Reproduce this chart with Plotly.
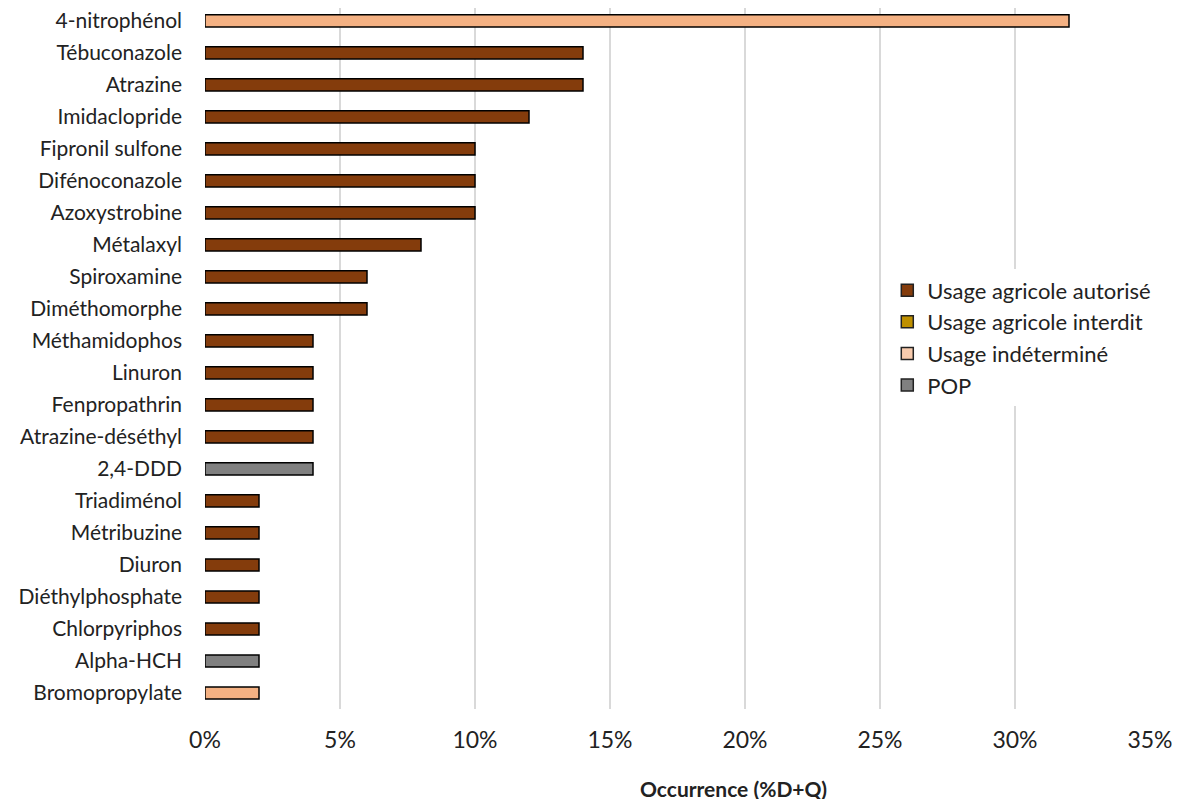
import plotly.graph_objects as go

substances = [
    "4-nitrophénol", "Tébuconazole", "Atrazine", "Imidaclopride", "Fipronil sulfone",
    "Difénoconazole", "Azoxystrobine", "Métalaxyl", "Spiroxamine", "Diméthomorphe",
    "Méthamidophos", "Linuron", "Fenpropathrin", "Atrazine-déséthyl", "2,4-DDD",
    "Triadiménol", "Métribuzine", "Diuron", "Diéthylphosphate", "Chlorpyriphos",
    "Alpha-HCH", "Bromopropylate",
]
occurrence = [32, 14, 14, 12, 10, 10, 10, 8, 6, 6, 4, 4, 4, 4, 4, 2, 2, 2, 2, 2, 2, 2]
usage = [
    "indet", "auto", "auto", "auto", "auto", "auto", "auto", "auto", "auto", "auto",
    "auto", "auto", "auto", "auto", "pop", "auto", "auto", "auto", "auto", "auto",
    "pop", "indet",
]

legend_names = ["Usage agricole autorisé", "Usage agricole interdit", "Usage indéterminé", "POP"]
legend_colors = ["#843C0C", "#BF9000", "#F8CBAD", "#808080"]
bar_colors = {"auto": "#843C0C", "indet": "#F4B183", "pop": "#808080"}

fig = go.Figure()
fig.add_trace(go.Bar(
    x=occurrence,
    y=substances,
    orientation="h",
    width=0.38,
    marker=dict(color=[bar_colors[u] for u in usage], line=dict(color="black", width=1.5)),
    showlegend=False,
))
for name, color in zip(legend_names, legend_colors):
    fig.add_trace(go.Bar(
        x=[None], y=[None], orientation="h", name=name,
        marker=dict(color=color, line=dict(color="#222222", width=1.5)),
    ))

# the page adds an 8px body margin, so margins are shifted by that amount
fig.update_layout(
    width=1180,
    height=799,
    margin=dict(l=197, r=38, t=0, b=98, autoexpand=False),
    plot_bgcolor="white",
    paper_bgcolor="white",
    font=dict(family="Lato, sans-serif", size=23, color="#222222"),
    barmode="overlay",
    legend=dict(
        x=0.722, y=0.627, xanchor="left", yanchor="top",
        bgcolor="white", font=dict(size=22), traceorder="normal",
        tracegroupgap=0,
    ),
)
# x-axis title sits right of the plot centre, so it is an annotation
fig.add_annotation(
    text="<b>Occurrence (%D+Q)</b>",
    x=(725 - 197) / 945, y=-(780 - 701) / 701,
    xref="paper", yref="paper", xanchor="center", yanchor="middle",
    showarrow=False, font=dict(size=21),
)
fig.update_xaxes(
    range=[0, 35],
    tickvals=[0, 5, 10, 15, 20, 25, 30, 35],
    ticktext=["0%", "5%", "10%", "15%", "20%", "25%", "30%", "35%"],
    showgrid=True,
    gridcolor="#D9D9D9",
    gridwidth=2,
    zeroline=False,
    ticks="",
    automargin=False,
    ticklabelstandoff=15,
)
fig.update_yaxes(
    categoryorder="array",
    categoryarray=substances[::-1],
    range=[-0.5, 21.4],
    showgrid=False,
    ticks="",
    automargin=False,
    ticklabelstandoff=22,
    showline=False,
    tickfont=dict(size=21),
)

fig.write_html("out.html")
